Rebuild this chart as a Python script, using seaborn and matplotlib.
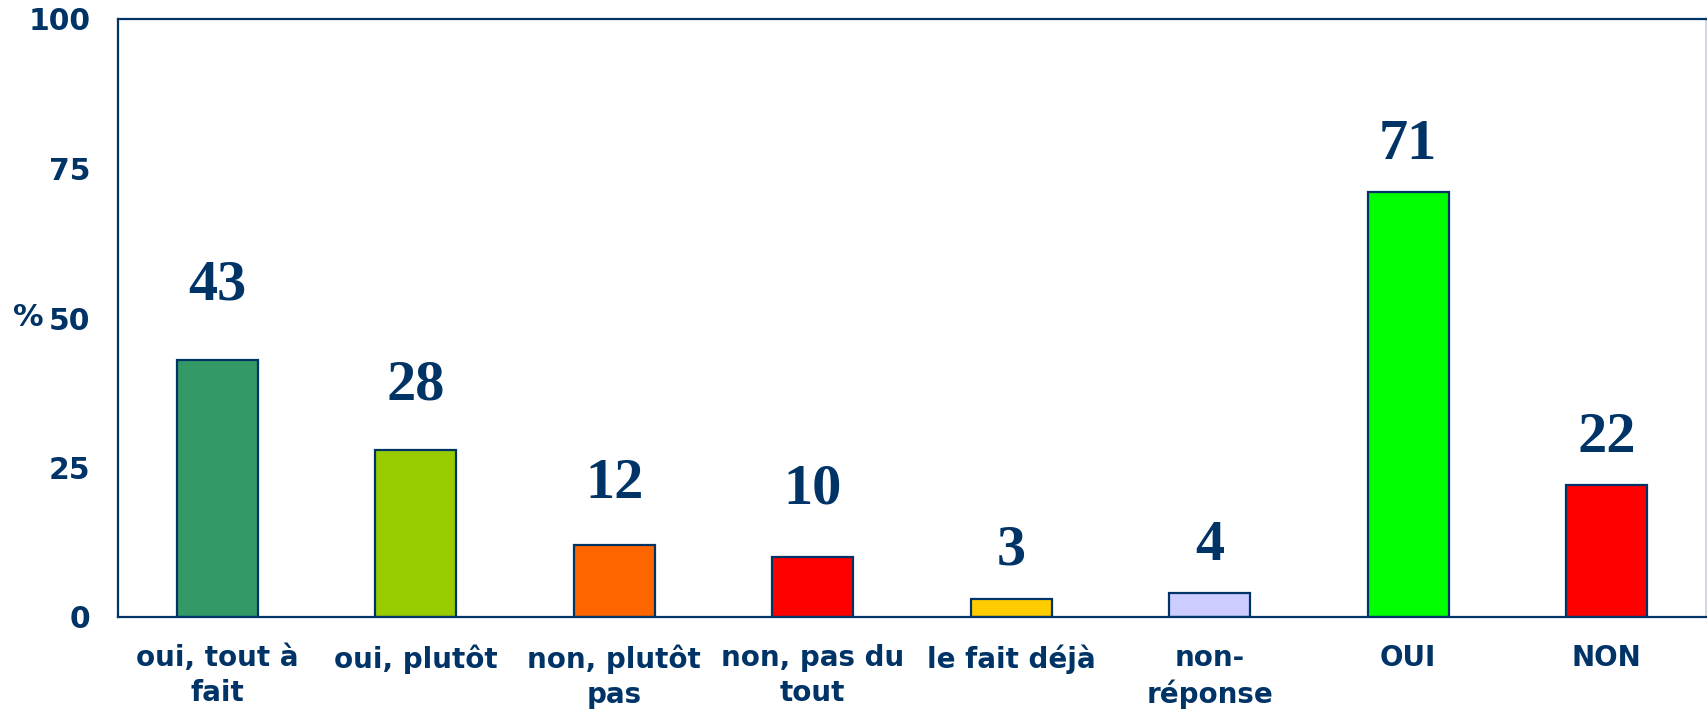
import numpy as np
import pandas as pd
import matplotlib
matplotlib.use('Agg')
import matplotlib.pyplot as plt
import seaborn as sns

categories = ['oui, tout à\nfait', 'oui, plutôt', 'non, plutôt\npas', 'non, pas du\ntout',
              'le fait déjà', 'non-\nréponse', 'OUI', 'NON']
values     = [43, 28, 12, 10, 3, 4, 71, 22]
colors     = ['#339966', '#99CC00', '#FF6600', '#FF0000', '#FFCC00', '#CCCCFF', '#00FF00', '#FF0000']
y_ticks    = [0, 25, 50, 75, 100]

# gap (points) between each bar and its value label, as placed in the original
label_pad  = [35, 27.5, 25.5, 30, 16, 15.5, 15.5, 15.5]

navy = '#003366'

sns.set_style('white')
plt.rcParams['font.family'] = ['DejaVu Sans']

df = pd.DataFrame({'cat': categories, 'val': values})

fig = plt.figure(figsize=(17.07, 7.09), dpi=100)
ax = fig.add_axes([118 / 1707, 92 / 709, 1 - 118 / 1707 - 0.0006, (617 - 19) / 709])

sns.barplot(data=df, x='cat', y='val', hue='cat', palette=colors, legend=False,
            width=0.41, edgecolor=navy, linewidth=1.6, saturation=1, ax=ax)

# value labels above bars
for cont, pad in zip(ax.containers, label_pad):
    ax.bar_label(cont, padding=pad, fontsize=42, fontweight='bold', color=navy,
                 fontfamily='Liberation Serif')

ax.set_ylim(0, 100)
ax.set_xlim(-0.5, len(categories) - 0.5)
ax.set_yticks(y_ticks)
ax.set_yticklabels([str(t) for t in y_ticks], fontsize=21.5, fontweight='bold', color=navy)
ax.set_xticks(range(len(categories)))
ax.set_xticklabels(categories, fontsize=20, fontweight='bold', color=navy, linespacing=1.32)
ax.set_xticks(np.arange(-0.5, len(categories), 1.0), minor=True)
ax.tick_params(axis='x', which='major', length=0, pad=19.5)
ax.tick_params(axis='x', which='minor', length=6, width=1.5, color=navy, direction='out')
ax.tick_params(axis='y', length=8, width=1.5, color=navy, direction='out', pad=12)
ax.set_xlabel('')
ax.set_ylabel('%', rotation=0, fontsize=22, fontweight='bold', color=navy,
              ha='center', va='center')
ax.yaxis.set_label_coords(-0.0565, 0.5)

for side in ['left', 'bottom', 'top']:
    ax.spines[side].set_color(navy)
    ax.spines[side].set_linewidth(1.6)
ax.spines['right'].set_color('#C8D0E0')
ax.spines['right'].set_linewidth(1.2)

fig.savefig('out.png', dpi=100)
